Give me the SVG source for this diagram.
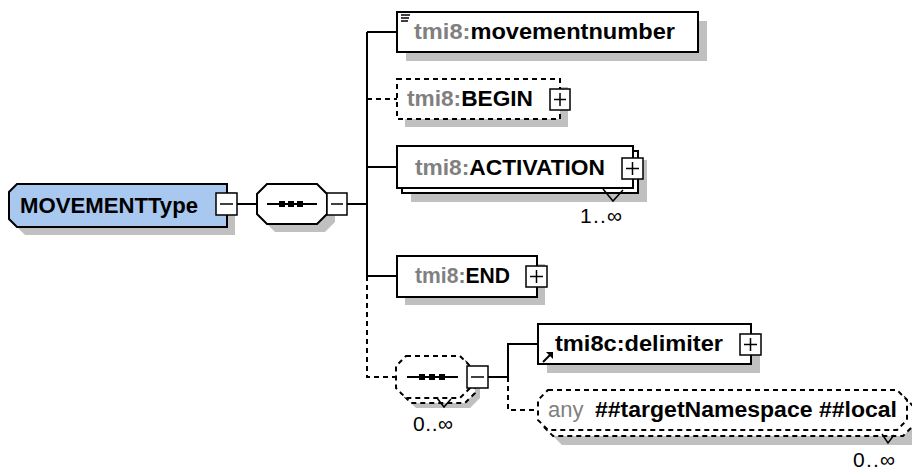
<svg xmlns="http://www.w3.org/2000/svg" width="912" height="472" viewBox="0 0 912 472">
<style>
.sh{fill:#c0c0c0;stroke:none}
.bx{fill:#fff;stroke:#000;stroke-width:2}
.dbx{fill:#fff;stroke:#000;stroke-width:2;stroke-dasharray:5,4}
.ln{fill:none;stroke:#000;stroke-width:2}
.dl{fill:none;stroke:#000;stroke-width:2;stroke-dasharray:5,4}
.pm{fill:#fff;stroke:#000;stroke-width:1.5}
.sg{fill:none;stroke:#000;stroke-width:1.5}
.t{font-family:"Liberation Sans",Arial,sans-serif;font-size:22px;font-weight:bold;fill:#000}
.pre{fill:#808080}
.lab{font-family:"Liberation Sans",Arial,sans-serif;font-size:21px;fill:#000}
</style>
<rect width="912" height="472" fill="#fff"/>

<g id="connectors">
<path class="ln" d="M237,204 H257 M347,204 H367 M367,32 V276 M367,32 H397 M367,167 H397 M367,276 H397"/>
<path class="dl" d="M367,99 H397 M367,276 V377 H396"/>
<path class="ln" d="M488,377 H508 M508,377 V344 H538"/>
<path class="dl" d="M508,377 V410 H538"/>
</g>

<g id="MOVEMENTType">
<path class="sh" d="M25,192 H235 V235 H25 L17,227 V200 Z"/>
<path d="M17,184 H227 V227 H17 L9,219 V192 Z" fill="#a8c8f0" stroke="#000" stroke-width="2"/>
<text class="t" x="20" y="213" textLength="178" lengthAdjust="spacingAndGlyphs">MOVEMENTType</text>
<rect class="pm" x="216" y="193" width="21" height="22"/>
<path class="sg" d="M220,204 H233"/>
</g>

<g id="sequence1">
<polygon class="sh" points="275,192 325,192 335,202 335,222 325,232 275,232 265,222 265,202"/>
<polygon class="bx" points="267,184 317,184 327,194 327,214 317,224 267,224 257,214 257,194"/>
<path class="ln" d="M267,204 H317" stroke-width="1.5"/>
<rect x="279" y="201" width="6" height="6" fill="#000"/>
<rect x="288" y="201" width="6" height="6" fill="#000"/>
<rect x="297" y="201" width="6" height="6" fill="#000"/>
<rect class="pm" x="327" y="193" width="20" height="22"/>
<path class="sg" d="M331,204 H343"/>
</g>

<g id="movementnumber">
<rect class="sh" x="406" y="21" width="301" height="40"/>
<rect class="bx" x="397" y="12" width="301" height="40"/>
<path class="sg" d="M401,15 H410 M401,18 H409 M401,21 H408"/>
<text class="t" x="414" y="39" textLength="261" lengthAdjust="spacingAndGlyphs"><tspan class="pre">tmi8:</tspan>movementnumber</text>
</g>

<g id="BEGIN">
<rect class="sh" x="405" y="87" width="163" height="40"/>
<rect class="dbx" x="397" y="79" width="163" height="40"/>
<text class="t" x="407" y="106" textLength="126" lengthAdjust="spacingAndGlyphs"><tspan class="pre">tmi8:</tspan>BEGIN</text>
<rect class="pm" x="550" y="89" width="20" height="21"/>
<path class="sg" d="M554,99.5 H566 M560,93 V106"/>
</g>

<g id="ACTIVATION">
<rect class="sh" x="411" y="160" width="236" height="42"/>
<rect class="bx" x="402" y="151" width="236" height="42"/>
<rect class="bx" x="397" y="146" width="236" height="42"/>
<text class="t" x="415" y="175" textLength="190" lengthAdjust="spacingAndGlyphs"><tspan class="pre">tmi8:</tspan>ACTIVATION</text>
<rect class="pm" x="622" y="158" width="21" height="21"/>
<path class="sg" d="M626,168.5 H639 M632.5,162 V175"/>
<path class="sg" d="M603,189 L613,201 L623,190"/>
<text class="lab" x="580" y="223" textLength="42">1..∞</text>
</g>

<g id="END">
<rect class="sh" x="405" y="264" width="140" height="41"/>
<rect class="bx" x="397" y="256" width="140" height="41"/>
<text class="t" x="415" y="283" textLength="95" lengthAdjust="spacingAndGlyphs"><tspan class="pre">tmi8:</tspan>END</text>
<rect class="pm" x="526" y="266" width="21" height="21"/>
<path class="sg" d="M530,276.5 H543 M536.5,270 V283"/>
</g>

<g id="sequence2">
<polygon class="sh" points="416,366 470,366 480,376 480,398 470,408 416,408 406,398 406,376"/>
<polygon class="dbx" points="411,361 465,361 475,371 475,393 465,403 411,403 401,393 401,371"/>
<polygon class="dbx" points="406,356 460,356 470,366 470,388 460,398 406,398 396,388 396,366"/>
<path class="ln" d="M407,377 H458" stroke-width="1.5"/>
<rect x="419" y="374" width="6" height="6" fill="#000"/>
<rect x="429" y="374" width="6" height="6" fill="#000"/>
<rect x="439" y="374" width="6" height="6" fill="#000"/>
<path class="sg" d="M437,398 L444,407 L451,399"/>
<rect class="pm" x="467" y="366" width="21" height="22"/>
<path class="sg" d="M471,377 H484"/>
<text class="lab" x="413" y="431" textLength="40">0..∞</text>
</g>

<g id="delimiter">
<rect class="sh" x="547" y="333" width="213" height="40"/>
<rect class="bx" x="538" y="324" width="213" height="40"/>
<path class="ln" d="M543,362 L550,355"/>
<polygon points="546,352 553,352 553,359" fill="#000"/>
<text class="t" x="555" y="351" textLength="168" lengthAdjust="spacingAndGlyphs">tmi8c:delimiter</text>
<rect class="pm" x="740" y="334" width="21" height="21"/>
<path class="sg" d="M744,344.5 H757 M750.5,338 V351"/>
</g>

<g id="any">
<polygon class="sh" points="562,405 912,405 912,445 562,445 552,435 552,415"/>
<polygon class="dbx" points="553,396 903,396 913,406 913,426 903,436 553,436 543,426 543,406"/>
<polygon class="dbx" points="548,390 897,390 907,400 907,420 897,430 548,430 538,420 538,400"/>
<text x="548" y="417" font-family="Liberation Sans, Arial, sans-serif" font-size="22" fill="#808080">any</text>
<text class="t" x="595" y="417" textLength="302" lengthAdjust="spacingAndGlyphs">##targetNamespace ##local</text>
<path class="sg" d="M882,434 L888,443 L894,435"/>
<text class="lab" x="853" y="467" textLength="42">0..∞</text>
</g>
</svg>
